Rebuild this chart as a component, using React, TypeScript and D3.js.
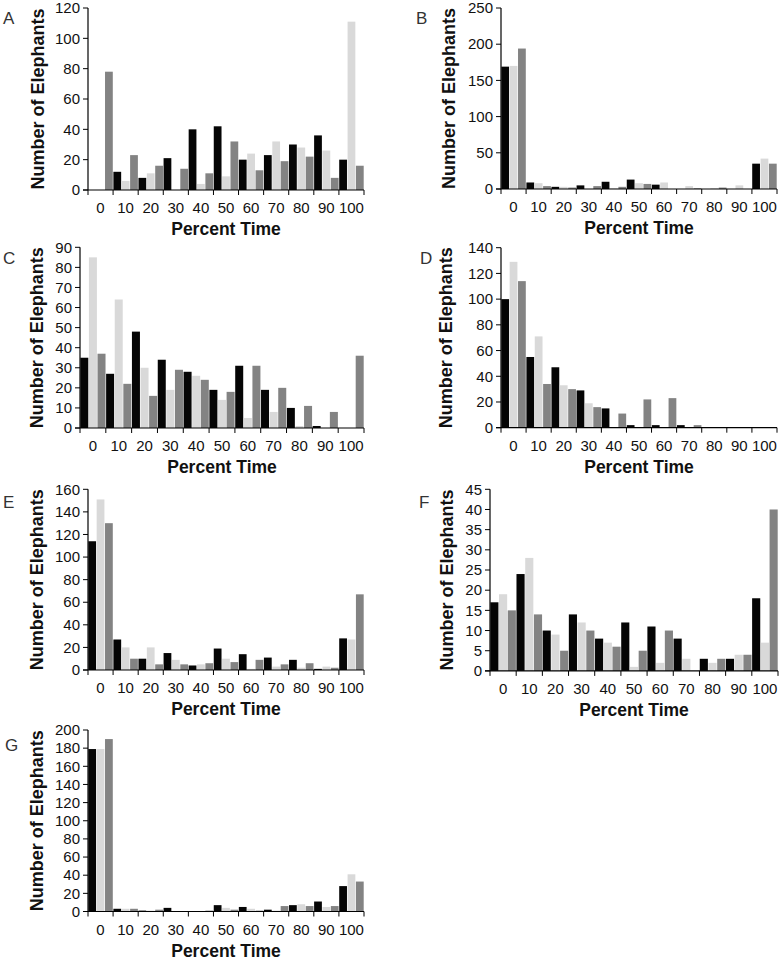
import React from "react";
import * as d3 from "d3";

const categories = ["0", "10", "20", "30", "40", "50", "60", "70", "80", "90", "100"];
const seriesNames = ["black", "light", "dark"];
const seriesColors = ["#050505", "#d9d9d9", "#838383"];

const aBlack = [0, 12, 8, 21, 40, 42, 20, 23, 30, 36, 20];
const aLight = [0, 6, 11, 0, 4, 9, 24, 32, 28, 26, 111];
const aDark = [78, 23, 16, 14, 11, 32, 13, 19, 22, 8, 16];

const bBlack = [169, 9, 3, 5, 10, 13, 6, 0, 0, 0, 35];
const bLight = [170, 8, 3, 0, 1, 8, 9, 4, 1, 5, 42];
const bDark = [194, 4, 2, 4, 3, 7, 0, 1, 2, 0, 35];

const cBlack = [35, 27, 48, 34, 28, 19, 31, 19, 10, 1, 0];
const cLight = [85, 64, 30, 19, 26, 14, 5, 8, 1, 0, 0];
const cDark = [37, 22, 16, 29, 24, 18, 31, 20, 11, 8, 36];

const dBlack = [100, 55, 47, 29, 15, 2, 2, 2, 0, 0, 0];
const dLight = [129, 71, 33, 19, 0, 0, 0, 0, 0, 0, 0];
const dDark = [114, 34, 30, 16, 11, 22, 23, 2, 0, 0, 0];

const eBlack = [114, 27, 10, 15, 4, 19, 14, 11, 9, 1, 28];
const eLight = [151, 20, 20, 9, 5, 10, 1, 3, 2, 3, 27];
const eDark = [130, 10, 5, 5, 6, 7, 9, 5, 6, 2, 67];

const fBlack = [17, 24, 10, 14, 8, 12, 11, 8, 3, 3, 18];
const fLight = [19, 28, 9, 12, 7, 1, 2, 3, 2, 4, 7];
const fDark = [15, 14, 5, 10, 6, 5, 10, 0, 3, 4, 40];

const gBlack = [179, 3, 1, 4, 0, 7, 5, 2, 7, 11, 28];
const gLight = [179, 3, 1, 0, 0, 4, 3, 1, 8, 5, 41];
const gDark = [190, 3, 2, 0, 1, 2, 1, 6, 6, 6, 33];

const panelLetters = ["A", "B", "C", "D", "E", "F", "G"];
const yMaxes = [120, 250, 90, 140, 160, 45, 200];
const ySteps = [20, 50, 10, 20, 20, 5, 20];
const panelSeries = [
  [aBlack, aLight, aDark],
  [bBlack, bLight, bDark],
  [cBlack, cLight, cDark],
  [dBlack, dLight, dDark],
  [eBlack, eLight, eDark],
  [fBlack, fLight, fDark],
  [gBlack, gLight, gDark],
];

const yTitle = "Number of Elephants";
const xTitle = "Percent Time";

// layout: plot area left, right, top, bottom; letter x,y; y title x
const layouts = [
  { x0: 88, x1: 364, top: 8, bot: 190, lx: 3, ly: 24, tx: 38 },
  { x0: 501, x1: 777, top: 8, bot: 189, lx: 416, ly: 24, tx: 449 },
  { x0: 80, x1: 364, top: 247.3, bot: 428, lx: 3, ly: 264, tx: 37 },
  { x0: 501, x1: 777, top: 247.7, bot: 427.7, lx: 420, ly: 264, tx: 446 },
  { x0: 88, x1: 364, top: 489.3, bot: 670, lx: 3, ly: 508, tx: 37 },
  { x0: 490, x1: 778, top: 489.3, bot: 670.9, lx: 419, ly: 508, tx: 447 },
  { x0: 88, x1: 364, top: 730, bot: 911.5, lx: 5, ly: 751, tx: 37 },
];

const FONT = "'Liberation Sans', Arial, sans-serif";

function Panel({ idx }: { idx: number }) {
  const L = layouts[idx];
  const series = panelSeries[idx];
  const yMax = yMaxes[idx];
  const step = ySteps[idx];
  const x = d3.scaleBand<string>().domain(categories).range([L.x0, L.x1]).padding(0);
  const xs = d3.scaleBand<string>().domain(seriesNames).range([0, x.bandwidth()]).padding(0);
  const y = d3.scaleLinear().domain([0, yMax]).range([L.bot, L.top]);
  const yTicks = d3.range(0, yMax + step / 2, step);
  const boundaries = categories.map((c) => x(c) as number).concat([L.x1]);

  return (
    <g>
      <text x={L.lx} y={L.ly} fontSize={17} fill="#333" fontFamily={FONT}>
        {panelLetters[idx]}
      </text>
      {series.map((vals, si) =>
        vals.map((v, ci) => {
          const bx = (x(categories[ci]) as number) + (xs(seriesNames[si]) as number);
          return (
            <rect
              key={`${si}-${ci}`}
              x={bx + 0.3}
              y={y(v)}
              width={xs.bandwidth() - 0.6}
              height={L.bot - y(v)}
              fill={seriesColors[si]}
            />
          );
        })
      )}
      <line x1={L.x0} x2={L.x0} y1={L.top} y2={L.bot} stroke="#000" strokeWidth={1.2} />
      <line x1={L.x0 - 5} x2={L.x1} y1={L.bot} y2={L.bot} stroke="#000" strokeWidth={1.2} />
      {yTicks.map((t) => (
        <g key={`yt${t}`}>
          <line x1={L.x0 - 5} x2={L.x0} y1={y(t)} y2={y(t)} stroke="#000" strokeWidth={1} />
          <text
            x={L.x0 - 8}
            y={y(t)}
            dy="0.35em"
            textAnchor="end"
            fontSize={15}
            fill="#111"
            fontFamily={FONT}
          >
            {t}
          </text>
        </g>
      ))}
      {boundaries.map((b, i) => (
        <line key={`xt${i}`} x1={b} x2={b} y1={L.bot} y2={L.bot + 5} stroke="#000" strokeWidth={1} />
      ))}
      {categories.map((c) => (
        <text
          key={`xl${c}`}
          x={(x(c) as number) + x.bandwidth() / 2}
          y={L.bot + 23}
          textAnchor="middle"
          fontSize={15}
          fill="#111"
          fontFamily={FONT}
        >
          {c}
        </text>
      ))}
      <text
        x={(L.x0 + L.x1) / 2}
        y={L.bot + 45}
        textAnchor="middle"
        fontSize={17.5}
        fontWeight="bold"
        fill="#111"
        fontFamily={FONT}
      >
        {xTitle}
      </text>
      <text
        transform={`translate(${L.tx},${(L.top + L.bot) / 2}) rotate(-90)`}
        dy="0.35em"
        textAnchor="middle"
        fontSize={18}
        fontWeight="bold"
        fill="#111"
        fontFamily={FONT}
      >
        {yTitle}
      </text>
    </g>
  );
}

export default function App() {
  return (
    <svg
      width={780}
      height={960}
      style={{ position: "absolute", left: 0, top: 0, background: "#fff" }}
    >
      <rect width={780} height={960} fill="#fff" />
      {panelLetters.map((_, i) => (
        <Panel key={i} idx={i} />
      ))}
    </svg>
  );
}
